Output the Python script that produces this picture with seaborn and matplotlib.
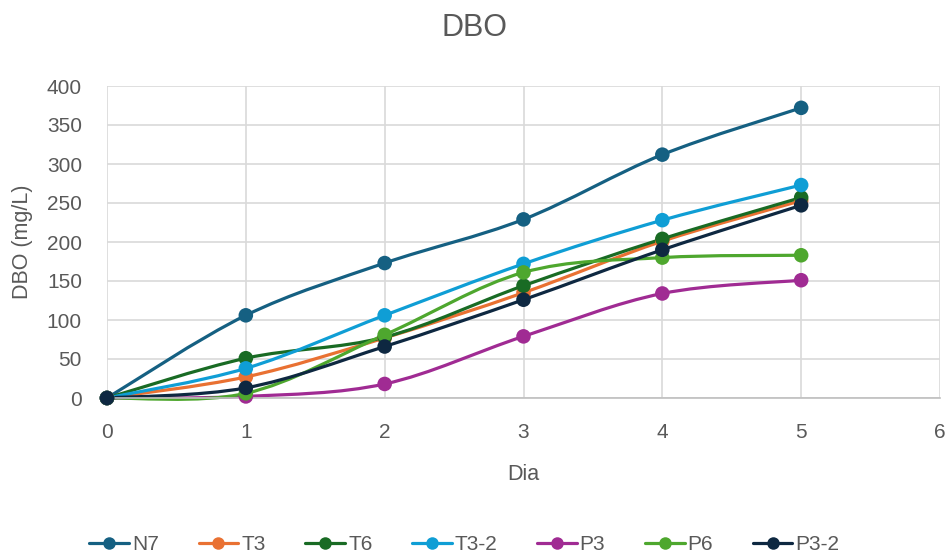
import numpy as np
import pandas as pd
import matplotlib
matplotlib.use("Agg")
import matplotlib.pyplot as plt
from matplotlib.path import Path
from matplotlib.patches import PathPatch
from matplotlib.lines import Line2D
import seaborn as sns

# Data
dias = [0, 1, 2, 3, 4, 5]
n7 = [0, 106, 173, 229, 312, 372]
t3 = [0, 27, 77, 135, 201, 253]
t6 = [0, 51, 78, 144, 204, 257]
t3_2 = [0, 38, 106, 172, 228, 273]
p3 = [0, 2, 18, 79, 134, 151]
p6 = [0, 6, 81, 161, 180, 183]
p3_2 = [0, 13, 66, 126, 190, 247]

series = {"N7": n7, "T3": t3, "T6": t6, "T3-2": t3_2,
          "P3": p3, "P6": p6, "P3-2": p3_2}
colors = {"N7": "#156082", "T3": "#E97132", "T6": "#196B24",
          "T3-2": "#0F9ED5", "P3": "#A02B93", "P6": "#4EA72E",
          "P3-2": "#0E2841"}

df = pd.DataFrame([(k, d, v) for k, vals in series.items()
                   for d, v in zip(dias, vals)],
                  columns=["serie", "dia", "dbo"])

sns.set_theme(style="white")
plt.rcParams["font.family"] = ["Liberation Sans", "DejaVu Sans"]
grey = "#595959"

fig = plt.figure(figsize=(9.48, 5.58), dpi=100)
ax = fig.add_axes([107 / 948, 1 - 398 / 558, (940 - 107) / 948, (398 - 86) / 558])


def smooth_path(xs, ys):
    # Excel-style smoothed line: cubic bezier between points
    pts = np.column_stack([xs, ys]).astype(float)
    verts = [pts[0]]
    codes = [Path.MOVETO]
    n = len(pts)
    for i in range(n - 1):
        p0 = pts[i - 1] if i > 0 else pts[i]
        p1, p2 = pts[i], pts[i + 1]
        p3_ = pts[i + 2] if i + 2 < n else pts[i + 1]
        c1 = p1 + (p2 - p0) / 6
        c2 = p2 - (p3_ - p1) / 6
        verts += [c1, c2, p2]
        codes += [Path.CURVE4] * 3
    return Path(verts, codes)


for name, vals in series.items():
    ax.add_patch(PathPatch(smooth_path(dias, vals), fill=False,
                           edgecolor=colors[name], lw=2.3, zorder=2,
                           capstyle="round", clip_on=False))

# markers, one series at a time so later series sit on top
for i, name in enumerate(series):
    sub = df[df["serie"] == name]
    sns.scatterplot(data=sub, x="dia", y="dbo", color=colors[name],
                    s=110, edgecolor="none", legend=False, zorder=3 + i,
                    clip_on=False, ax=ax)

ax.set_xlim(0, 6)
ax.set_ylim(0, 400)
ax.set_xticks(range(0, 7))
ax.set_yticks(range(0, 401, 50))
ax.grid(True, color="#D9D9D9", lw=1.2)
ax.set_axisbelow(True)
for s in ["top", "right", "left"]:
    ax.spines[s].set_visible(False)
ax.spines["bottom"].set_color("#BFBFBF")
ax.spines["bottom"].set_linewidth(1.2)
ax.tick_params(axis="both", length=0, labelsize=15, labelcolor=grey)
ax.tick_params(axis="x", pad=18)
ax.tick_params(axis="y", pad=18)

ax.set_xlabel("Dia", fontsize=15.5, color=grey, labelpad=16)
ax.set_ylabel("DBO (mg/L)", fontsize=15.5, color=grey, labelpad=10)
fig.text(0.5, 1 - 28 / 558, "DBO", ha="center", va="center",
         fontsize=22, color=grey)

handles = [Line2D([0], [0], color=colors[k], lw=2.3, marker="o",
                  markersize=9, markeredgecolor="none") for k in series]
fig.legend(handles, list(series.keys()), loc="center",
           bbox_to_anchor=(0.49, 1 - 545 / 558), ncol=7, frameon=False,
           fontsize=15, labelcolor=grey, handlelength=1.9,
           handletextpad=0.15, columnspacing=1.9)

fig.savefig("out.png", dpi=100)
